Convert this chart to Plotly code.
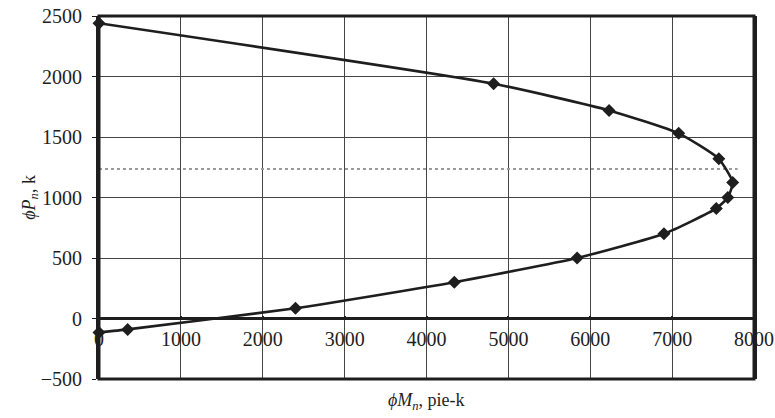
import plotly.graph_objects as go

# Interaction diagram data (phi*Mn in pie-k, phi*Pn in k)
phi_Mn = [0, 350, 2400, 4340, 5840, 6900, 7540, 7680, 7740, 7570, 7080, 6230, 4820, 0]
phi_Pn = [-115, -90, 85, 300, 500, 700, 910, 1000, 1125, 1320, 1530, 1720, 1940, 2440]

# Balanced-load reference line
bal_M = [0, 7800]
bal_P = [1235, 1235]

x_ticks = [0, 1000, 2000, 3000, 4000, 5000, 6000, 7000, 8000]
y_ticks = [-500, 0, 500, 1000, 1500, 2000, 2500]

font_family = "Liberation Serif, Times New Roman, serif"
dark = "#1e1e1e"

fig = go.Figure()
fig.add_trace(go.Scatter(
    x=bal_M, y=bal_P, mode="lines",
    line=dict(color="#9a9a9a", width=2, dash="dot"),
    hoverinfo="skip", showlegend=False,
))
fig.add_trace(go.Scatter(
    x=phi_Mn, y=phi_Pn, mode="lines+markers",
    line=dict(color=dark, width=2.6, shape="spline", smoothing=0.5),
    marker=dict(symbol="diamond", size=10, color=dark),
    cliponaxis=False, showlegend=False,
))

fig.update_layout(
    width=775, height=418,
    margin=dict(l=99, r=21, t=16, b=39, autoexpand=False),
    paper_bgcolor="white", plot_bgcolor="white",
    font=dict(family=font_family, size=20, color=dark),
    xaxis=dict(
        range=[0, 8000], tickvals=x_ticks,
        ticktext=[str(v) for v in x_ticks],
        anchor="free", position=1/6, automargin=False,
        ticklabeloverflow="allow",
        showgrid=True, gridcolor="#444", gridwidth=1,
        zeroline=False, showline=False,
        ticks="inside", ticklen=3, tickcolor=dark, tickwidth=2,
        ticklabelstandoff=6,
        tickfont=dict(family=font_family, size=20, color=dark),
    ),
    yaxis=dict(
        range=[-500, 2500], tickvals=y_ticks, automargin=False,
        ticklabeloverflow="allow",
        ticktext=[("\u2212500" if v < 0 else str(v)) for v in y_ticks],
        showgrid=True, gridcolor="#444", gridwidth=1,
        zeroline=True, zerolinecolor=dark, zerolinewidth=3,
        showline=True, linecolor=dark, linewidth=3, mirror=True,
        ticks="outside", ticklen=4, tickcolor=dark, tickwidth=1,
        ticklabelstandoff=6,
        tickfont=dict(family=font_family, size=20, color=dark),
    ),
    shapes=[dict(
        type="rect", xref="paper", yref="paper", x0=0, x1=1, y0=0, y1=1,
        line=dict(color=dark, width=3), layer="above",
    )],
    annotations=[
        dict(text="<i>\u03d5M</i><sub><i>n</i></sub>, pie-k", xref="paper", yref="paper",
             x=0.5, y=-0.063, xanchor="center", yanchor="middle", showarrow=False,
             font=dict(family=font_family, size=18, color=dark)),
        dict(text="<i>\u03d5P</i><sub><i>n</i></sub>, k", xref="paper", yref="paper",
             x=-0.105, y=0.5, xanchor="center", yanchor="middle", showarrow=False,
             textangle=-90,
             font=dict(family=font_family, size=18, color=dark)),
    ],
)

# remove the page's default 8px body margin so the figure sits at the window origin
fig.write_html("out.html", config={"displayModeBar": False},
               post_script="document.body.style.margin='0';")
